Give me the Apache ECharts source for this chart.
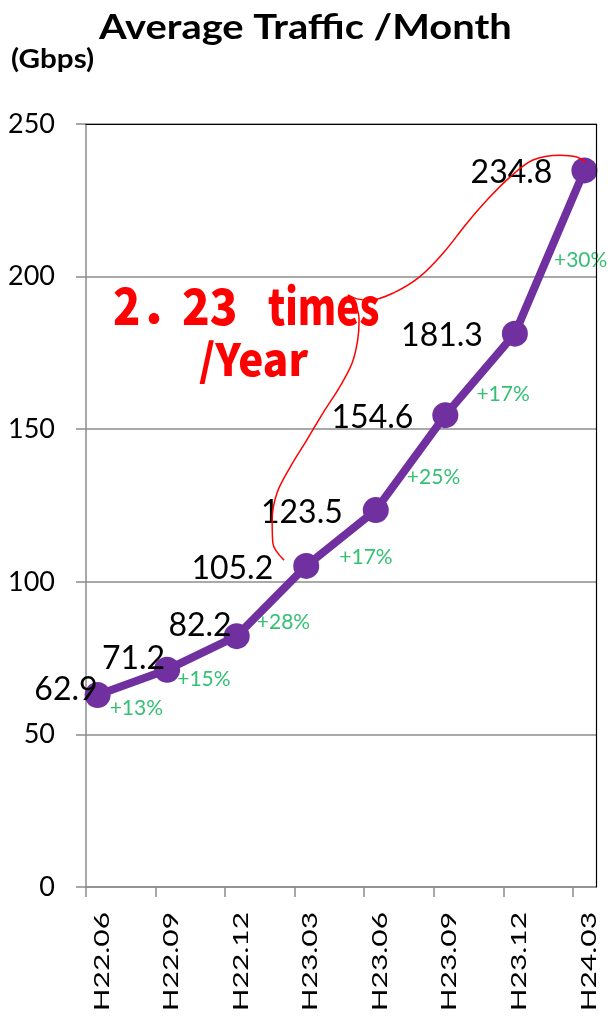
<!DOCTYPE html>
<html>
<head>
<meta charset="utf-8">
<script src="https://cdn.jsdelivr.net/npm/echarts@6/dist/echarts.min.js"></script>
<style>
  html, body { margin: 0; padding: 0; background: #fff; }
  #chart { width: 608px; height: 1019px; }
</style>
</head>
<body>
<div id="chart"></div>
<script>
// Quarterly average traffic (Gbps)
const categories = ['H22.06', 'H22.09', 'H22.12', 'H23.03', 'H23.06', 'H23.09', 'H23.12', 'H24.03'];
const traffic = [62.9, 71.2, 82.2, 105.2, 123.5, 154.6, 181.3, 234.8];
// quarter-on-quarter growth, printed between neighbouring points
const growthLabels = ['+13%', '+15%', '+28%', '+17%', '+25%', '+17%', '+30%'];
const yTickValues = [0, 50, 100, 150, 200, 250];

// hand-drawn red callout stroke, as (category index, Gbps) pairs
const calloutPath = [
  [2.68, 107.1], [2.52, 112.7], [2.51, 120.2], [2.58, 129.1], [2.77, 137.6],
  [3.01, 146.5], [3.24, 155.3], [3.48, 163.8], [3.66, 171.7], [3.74, 179.2],
  [3.76, 185.8], [3.71, 190.7], [3.60, 194.0], [3.73, 192.7], [3.92, 192.3],
  [4.25, 194.6], [4.63, 199.9], [4.97, 207.7], [5.31, 217.5], [5.60, 225.1],
  [5.93, 232.6], [6.26, 238.2], [6.65, 239.8], [6.89, 239.2], [7.02, 237.5]
];

// label nudges (pixels) -- styling only
const valueLabelOffsets = [[18, -5], [16, -11], [13, -10], [-15, 3], [-15, 3], [-14, 3], [-14, 2], [-14, 2]];
const growthLabelOffsets = [[4, 26], [2, 26], [12, 21], [25, 19], [23, 15], [23, 20], [31, 8]];

// The x axis runs in sixths of a quarter: each point sits one sixth to the
// right of its tick mark, and the plot ends one third past the last tick.
const SUB = 6, OFF = 1, X_MAX = 44;
const xOf = i => i * SUB + OFF;

const FONT = 'Lato';
const GRAY = '#8c8c8c';
const RED_FONT = '"Noto Sans CJK JP"';

const chart = echarts.init(document.getElementById('chart'), null, { renderer: 'canvas' });

const option = {
  animation: false,
  backgroundColor: '#fff',
  grid: { left: 86, top: 124, right: 12, bottom: 132 },
  xAxis: [{
    type: 'value', min: 0, max: X_MAX, position: 'bottom',
    axisLine: { show: true, onZero: false, lineStyle: { color: GRAY, width: 1.5 } },
    axisTick: { show: true, customValues: categories.map((_, i) => i * SUB), length: 10, lineStyle: { color: GRAY, width: 1.5 } },
    axisLabel: { show: false },
    splitLine: { show: false }
  }, {
    type: 'value', min: 0, max: X_MAX, position: 'top', z: 5,
    axisLine: { show: true, onZero: false, lineStyle: { color: '#000', width: 1.2 } },
    axisTick: { show: false }, axisLabel: { show: false }, splitLine: { show: false }
  }],
  yAxis: [{
    type: 'value', min: 0, max: 250, interval: 50,
    axisLine: { show: true, lineStyle: { color: GRAY, width: 1.5 } },
    axisTick: { show: true, length: 10, lineStyle: { color: GRAY, width: 1.5 } },
    axisLabel: {
      margin: 31, fontFamily: FONT, fontSize: 27, color: '#000',
      formatter: v => (yTickValues.includes(v) ? String(v) : '')
    },
    splitLine: { show: true, lineStyle: { color: GRAY, width: 1.5 } }
  }, {
    type: 'value', min: 0, max: 250, position: 'right', z: 5,
    axisLine: { show: true, onZero: false, lineStyle: { color: '#000', width: 1.2 } },
    axisTick: { show: false }, axisLabel: { show: false }, splitLine: { show: false }
  }],
  series: [{
    name: 'Average Traffic', type: 'line', xAxisIndex: 0, yAxisIndex: 0, z: 3,
    data: traffic.map((v, i) => ({ value: [xOf(i), v], label: { offset: valueLabelOffsets[i] } })),
    lineStyle: { color: '#7030A0', width: 8 },
    itemStyle: { color: '#7030A0' },
    symbol: 'circle', symbolSize: 26,
    label: {
      show: true, position: 'left', distance: 5,
      fontFamily: FONT, fontSize: 32, color: '#000',
      formatter: p => p.value[1].toFixed(1)
    }
  }, {
    name: 'Growth', type: 'scatter', xAxisIndex: 0, yAxisIndex: 0, z: 4,
    symbolSize: 1, itemStyle: { color: 'transparent' }, silent: true,
    data: growthLabels.map((g, i) => ({
      value: [xOf(i) + SUB / 2, (traffic[i] + traffic[i + 1]) / 2],
      label: { offset: growthLabelOffsets[i] }
    })),
    label: {
      show: true, position: 'inside',
      fontFamily: FONT, fontSize: 21, color: '#00B050',
      formatter: p => growthLabels[p.dataIndex]
    }
  }, {
    name: 'Callout', type: 'line', xAxisIndex: 0, yAxisIndex: 0, z: 10, silent: true,
    data: calloutPath.map(([c, g]) => [xOf(c), g]),
    smooth: 0.35, symbol: 'none',
    lineStyle: { color: '#ff0000', width: 1.5 }
  }]
};

chart.setOption(option);

// Category names under the axis, rotated and stretched along the reading direction
const xLabels = categories.map((name, i) => {
  const [px, py] = chart.convertToPixel({ xAxisIndex: 0, yAxisIndex: 0 }, [xOf(i), 0]);
  return {
    type: 'text', x: px + 4, y: py + 25, rotation: Math.PI / 2, scaleX: 1.36, silent: true,
    style: { text: name, font: '22px ' + FONT, fill: '#000', align: 'right', verticalAlign: 'middle' }
  };
});

function redText(text, x, y, size, sx) {
  return {
    type: 'text', x: x, y: y, scaleX: sx, silent: true, z: 20,
    style: { text: text, font: '900 ' + size + 'px ' + RED_FONT, fill: '#ff0000', align: 'left', verticalAlign: 'middle' }
  };
}

chart.setOption({
  graphic: [
    { type: 'text', x: 99, y: 28, scaleX: 1.14, silent: true,
      style: { text: 'Average Traffic /Month', font: 'bold 35px ' + FONT, fill: '#000', align: 'left', verticalAlign: 'middle' } },
    { type: 'text', x: 11, y: 60, scaleX: 1.14, silent: true,
      style: { text: '(Gbps)', font: 'bold 26px ' + FONT, fill: '#000', align: 'left', verticalAlign: 'middle' } },
    redText('2．', 113, 306, 50, 0.9),
    redText('23', 182, 306, 50, 0.91),
    redText('times', 268, 306, 50, 0.78),
    redText('/Year', 199, 359, 44, 0.96)
  ].concat(xLabels)
});
</script>
</body>
</html>
